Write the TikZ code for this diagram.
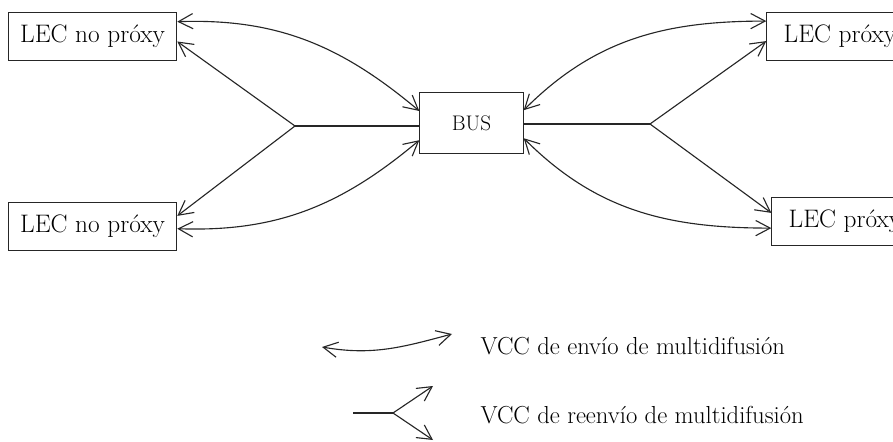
\documentclass[tikz,border=0pt]{standalone}
\usetikzlibrary{arrows.meta,positioning,calc}

\begin{document}
\begin{tikzpicture}
   [x=0.025cm,y=0.025cm,line width=0.8pt,black!85,
      >={Straight Barb[length=3.6mm,width=3.8mm]},
      lec/.style={shape=rectangle,draw,inner sep=2pt,minimum
      height=1.2cm,text=black,font=\fontsize{18}{21}\selectfont},
      busbox/.style={shape=rectangle,draw,inner sep=2pt,minimum width=2.58cm,
      minimum height=1.52cm,text=black,font=\fontsize{15}{18}\selectfont},
      lbl/.style={font=\fontsize{17.5}{20}\selectfont,text=black,inner sep=0pt,
      anchor=base west},
      send/.style={<->,looseness=1},
      fwd/.style={->}]
%%
\newcommand{\xynpa}{(92.5,404.3)}
\newcommand{\xynpb}{(92.5,214.3)}
\newcommand{\xybus}{(471.5,318)}
\newcommand{\xypa}{(766.3,404.3)}
\newcommand{\xypb}{(771.3,219.3)}
%%
\useasboundingbox (0,0) rectangle (893,441);
%%
\node (npa) [lec,minimum width=4.21cm] at \xynpa {LEC no próxy};
\node (npb) [lec,minimum width=4.21cm] at \xynpb {LEC no próxy};
\node (bus) [busbox] at \xybus {BUS};
\node (pa) [lec,anchor=west,inner xsep=0.42cm] at \xypa {LEC próxy};
\node (pb) [lec,anchor=west,inner xsep=0.42cm] at \xypb {LEC próxy};
\coordinate (ja) at (295,315);
\coordinate (jb) at (650,317);
%%
%% envio
\draw[send] ([yshift=0.375cm]npa.east) to[out=2,in=140] ([yshift=0.3cm]bus.west);
\draw[send] ([yshift=-0.05cm]npb.east) to[out=-2,in=220] ([yshift=-0.43cm]bus.west);
\draw[send] ([yshift=0.32cm]bus.east) to[out=45,in=180] ([yshift=0.39cm]pa.west);
\draw[send] ([yshift=-0.38cm]bus.east) to[out=-45,in=180] ([yshift=-0.16cm]pb.west);
%%
%% reenvio
\draw (ja) -- (ja -| bus.west);
\draw[fwd] (ja) -- ([yshift=-0.12cm]npa.east);
\draw[fwd] (ja) -- ([yshift=0.27cm]npb.east);
\draw (jb) -- (jb -| bus.east);
\draw[fwd] (jb) -- ([yshift=-0.11cm]pa.west);
\draw[fwd] (jb) -- ([yshift=0.22cm]pb.west);
%%
%% legend
\coordinate (sa) at (322,94);
\coordinate (sb) at (452,107);
\draw[send] (sa) to[out=-10,in=195] (sb);
\node (ta) [lbl] at (480,87) {VCC de envío de multidifusión};
\coordinate (fa) at (353,28);
\coordinate (fj) at (393,28);
\coordinate (fb) at (433,55);
\coordinate (fc) at (433,1);
\draw (fa) -- (fj);
\draw[fwd] (fj) -- (fb);
\draw[fwd] (fj) -- (fc);
\node (tb) [lbl] at (480,18) {VCC de reenvío de multidifusión};
\end{tikzpicture}
\end{document}
